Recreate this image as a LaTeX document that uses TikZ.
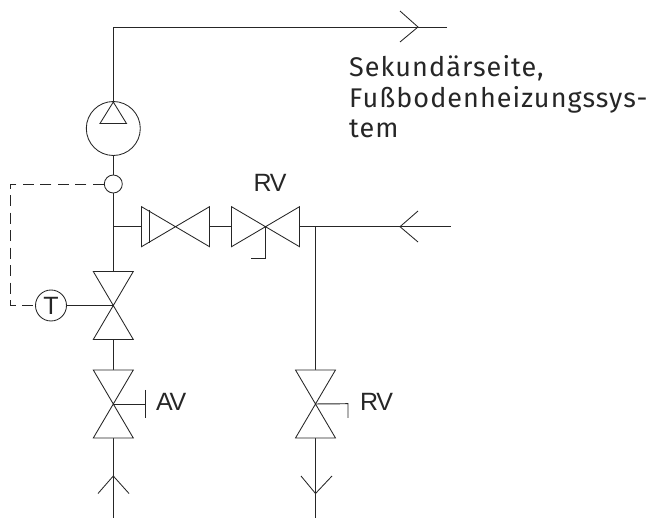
\documentclass[tikz,border=0pt]{standalone}
\usepackage{fontspec}
\setmainfont{Liberation Sans}
\newfontfamily\din[LetterSpace=3.9]{Fira Sans}
\tikzset{
  x=1pt,y=-1pt,
  pipe/.style={draw=black!85,line width=0.95pt},
  sym/.style={draw=black!85,line width=0.85pt,fill=white},
  lab/.style={font=\fontsize{25}{25}\selectfont\addfontfeature{LetterSpace=-6},text=black!85,inner sep=0pt,anchor=base west},
  pt/.style={inner sep=0pt,minimum size=0pt},
}
\newcommand{\vvalve}[2]{\draw[sym] (#1-20,#2-34) -- (#1+20,#2-34) -- (#1-20,#2+34) -- (#1+20,#2+34) -- cycle;}
\newcommand{\hvalve}[2]{\draw[sym] (#1-34,#2-20) -- (#1-34,#2+20) -- (#1+34,#2-20) -- (#1+34,#2+20) -- cycle;}
\begin{document}
\begin{tikzpicture}
\useasboundingbox (0,0) rectangle (656,518);
\coordinate (top) at (113.3,27);
\coordinate (tr) at (447,27);
\coordinate (botL) at (113.3,518);
\coordinate (botR) at (315.5,518);
\coordinate (rin) at (451,226.7);
\coordinate (j1) at (113.3,226.7);
\coordinate (j2) at (315.5,226.7);
\coordinate (d1) at (10,184);
\coordinate (d2) at (10,305.5);
\node[pt] (v1) at (113.3,305.5) {};
\node[pt] (v2) at (113.3,404) {};
\node[pt] (v3) at (315.5,404) {};
\node[pt] (v4) at (175.5,226.7) {};
\node[pt] (v5) at (265.5,226.7) {};
% pipes
\draw[pipe] (tr) -- (top) -- (botL);
\draw[pipe] (j1) -- (rin);
\draw[pipe] (j2) -- (botR);
% pump
\node[sym,circle,minimum size=54pt,inner sep=0pt] (pump) at (113.3,128.5) {};
\draw[sym] (113.3,102) -- (126.5,123.5) -- (100,123.5) -- cycle;
% sensor
\node[sym,circle,minimum size=18pt,inner sep=0pt] (sens) at (113.3,184) {};
% dashed
\node[sym,circle,minimum size=31pt,inner sep=0pt,font=\fontsize{25}{25}\selectfont,text=black!85] (T) at (51,305.5) {T};
\draw[pipe,line width=0.8pt,dash pattern=on 11pt off 6.5pt] (sens.west) -- (d1) -- (d2) -- (T.west);
\draw[pipe] (T.east) -- (v1.center);
% valves
\vvalve{113.3}{305.5}
\vvalve{113.3}{404}
\vvalve{315.5}{404}
\hvalve{175.5}{226.7}
\hvalve{265.5}{226.7}
\draw[sym] (149,210) -- (149,243);
% stems
\coordinate (s1) at (145,404);
\draw[pipe] (v2.center) -- (s1);
\draw[pipe] (145,390) -- (145,418);
\coordinate (s2) at (348,403.7);
\coordinate (s2b) at (348,418);
\draw[pipe] (v3.center) -- (s2) -- (s2b);
\coordinate (s3) at (265.5,258);
\coordinate (s4) at (251,258);
\draw[pipe] (v5.center) -- (s3) -- (s4);
% arrows
\draw[sym,fill=none] (400,11) -- (418,27) -- (400,42);
\draw[sym,fill=none] (418,211) -- (400,226.7) -- (418,242);
\draw[sym,fill=none] (98,493.5) -- (113.3,476) -- (129,493.5);
\draw[sym,fill=none] (301,476) -- (315.5,493.5) -- (332,476);
% labels
\node[lab] (rv1) at (253.5,192) {RV};
\node[lab] (av) at (156,411) {AV};
\node[lab] (rv2) at (360,411) {RV};
\node[inner sep=0pt,anchor=base west,align=left,font=\din\fontsize{27}{30.5}\selectfont,text=black!85] (sek) at (349,138) {Sekundärseite,\\Fußbodenheizungssys-\\tem};
\end{tikzpicture}
\end{document}
